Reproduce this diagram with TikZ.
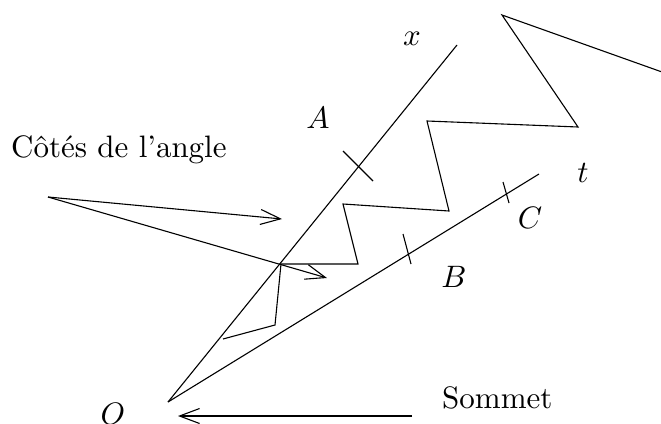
\documentclass[tikz,border=0pt]{standalone}
\usetikzlibrary{arrows.meta}
\newcommand{\mybig}[1]{\scalebox{3.1}{#1}}
\tikzset{
  ln/.style={line width=1.1pt, line join=miter},
  arr/.style={ln, -{Straight Barb[length=20pt,width=15pt,line width=1.1pt]}},
  lab/.style={inner sep=0pt, anchor=base},
}
\begin{document}
\begin{tikzpicture}[x=1pt,y=-1pt]
\useasboundingbox (0,0) rectangle (661,423);
% points
\coordinate (O) at (168,402);
\coordinate (X) at (457,45);
\coordinate (T) at (539,174);
\coordinate (a1) at (343,151); \coordinate (a2) at (373,181);
\coordinate (b1) at (403,234); \coordinate (b2) at (411,264);
\coordinate (c1) at (503,182); \coordinate (c2) at (509,203);
% rays
\draw[ln] (O) -- (X);
\draw[ln] (O) -- (T);
% ticks
\draw[ln] (a1) -- (a2);
\draw[ln] (b1) -- (b2);
\draw[ln] (c1) -- (c2);
% zigzag
\coordinate (z0) at (662,72);
\coordinate (z1) at (502,15);
\coordinate (z2) at (578,127);
\coordinate (z3) at (427,121);
\coordinate (z4) at (449,211);
\coordinate (z5) at (343,204);
\coordinate (z6) at (358,264);
\coordinate (z7) at (281,264);
\coordinate (z8) at (275,325);
\coordinate (z9) at (223,339);
\draw[ln] (z0) -- (z1) -- (z2) -- (z3) -- (z4) -- (z5) -- (z6) -- (z7) -- (z8) -- (z9);
% labels
\node[lab] (lx) at (412,45) {\mybig{$x$}};
\node[lab] (lA) at (318,128) {\mybig{$A$}};
\node[lab] (lt) at (583,182) {\mybig{$t$}};
\node[lab] (lC) at (530,228) {\mybig{$C$}};
\node[lab] (lB) at (454,287) {\mybig{$B$}};
\node[lab] (lO) at (113,424) {\mybig{$O$}};
\node[lab, anchor=base west] (cotes) at (11,157) {\mybig{C\^ot\'es de l'angle}};
\node[lab, anchor=base west] (som) at (442,408) {\mybig{Sommet}};
% arrows
\coordinate (s) at (48,197);
\coordinate (e1) at (282,219);
\coordinate (e2) at (327,278);
\coordinate (s2) at (412,416);
\coordinate (e3) at (178,416);
\draw[arr] (s) -- (e1);
\draw[arr] (s) -- (e2);
\draw[arr] (s2) -- (e3);
\end{tikzpicture}
\end{document}
